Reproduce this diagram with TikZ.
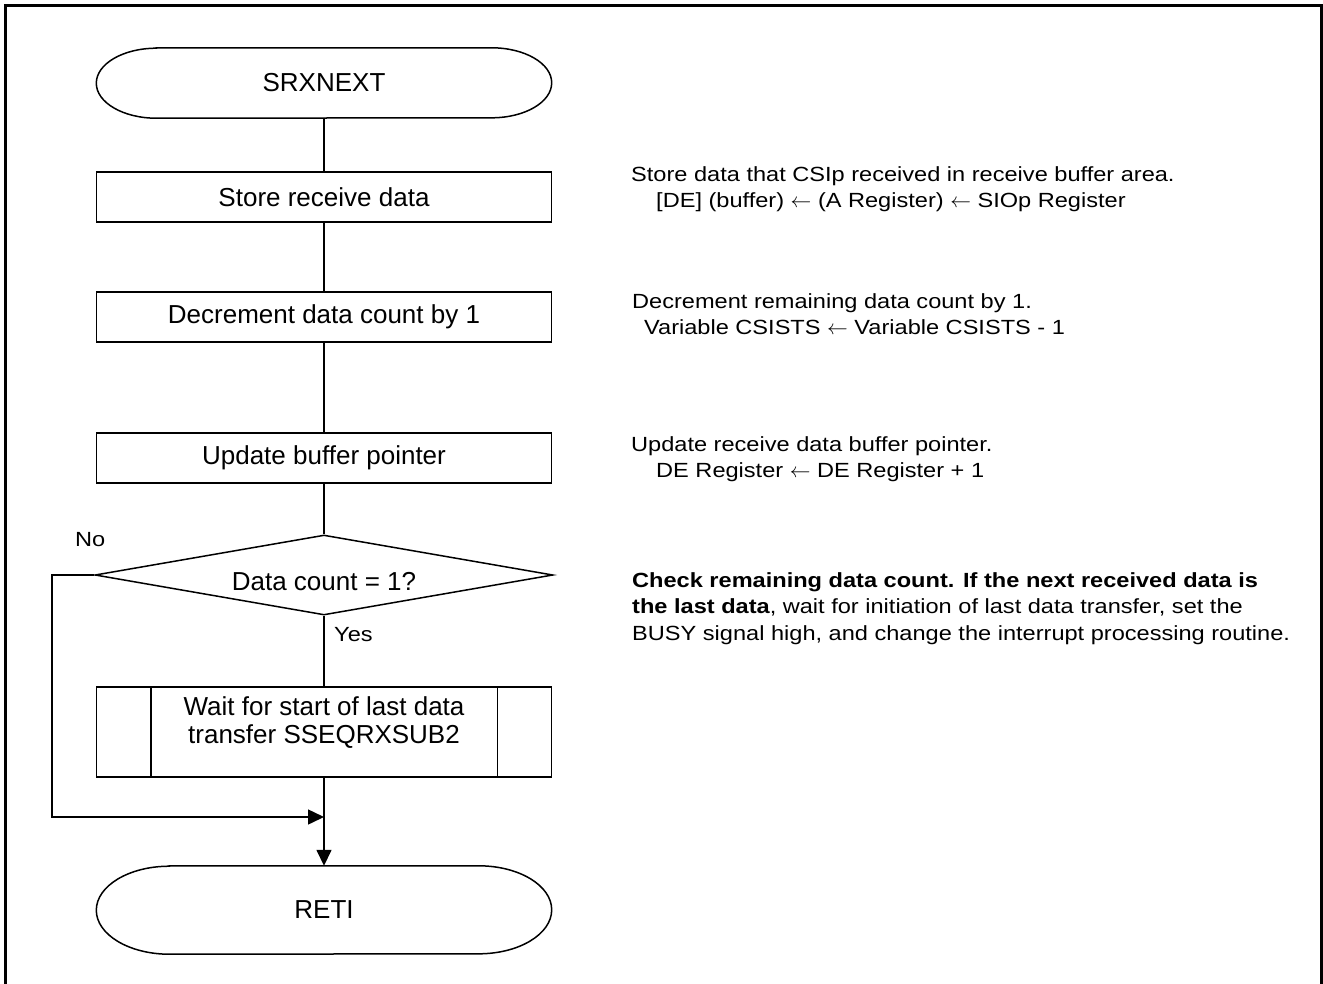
\documentclass[tikz,border=0pt]{standalone}
\usepackage{fontspec}
\setmainfont{Liberation Sans}
\newfontfamily\notefont[FakeStretch=1.15]{Liberation Sans}
\usetikzlibrary{shapes.geometric,arrows.meta}

\newcommand\boxfont{\fontsize{26}{28}\selectfont}
\newcommand\notesize{\notefont\fontsize{20.5}{26.4}\selectfont}
\newcommand\termoval[3]{%
  \draw[flowline] ([xshift=#2]#1.north west) -- ([xshift=-#2]#1.north east)
    arc[start angle=90,end angle=-90,x radius=#2,y radius=#3]
    -- ([xshift=#2]#1.south west)
    arc[start angle=270,end angle=90,x radius=#2,y radius=#3] -- cycle;}

\begin{document}
\begin{tikzpicture}
[
    x=1pt, y=-1pt,
    flowline/.style={line width=1.5pt},
    procbox/.style={draw, flowline, rectangle, minimum width=455pt, minimum height=50pt, inner sep=0pt, font=\boxfont},
    termnode/.style={rectangle, minimum width=455pt, inner sep=0pt, font=\boxfont},
    decision/.style={draw, flowline, diamond, minimum width=458pt, minimum height=80pt, inner sep=0pt},
    note/.style={anchor=north west, inner sep=0pt, align=left, font=\notesize},
    arrowline/.style={flowline, -{Triangle[length=16pt,width=15pt]}},
]
\useasboundingbox (0,0) rectangle (1323,983);
\draw[line width=3pt] (5.5,990) -- (5.5,5.5) -- (1321.5,5.5) -- (1321.5,990);

\node[termnode, minimum height=70pt] (start) at (324,83) {SRXNEXT};
\node[procbox] (store) at (324,197) {Store receive data};
\node[procbox] (dec) at (324,317) {Decrement data count by 1};
\node[procbox] (upd) at (324,458) {Update buffer pointer};
\node[decision, label={[name=checktext, font=\boxfont, inner sep=0pt, yshift=-7pt]center:Data count = 1?}] (check) at (324,575) {};
\node[procbox, minimum height=90pt, label={[name=subtext, font=\boxfont, align=center, inner sep=0pt, yshift=9pt]center:Wait for start of last data\\transfer SSEQRXSUB2}] (sub) at (324,732) {};
\node[termnode, minimum height=88pt] (ret) at (324,910) {RETI};
\coordinate (merge) at (324,817);
\coordinate (nocorner) at (52,817);

\termoval{start}{60pt}{35pt}
\termoval{ret}{73pt}{44pt}
\draw[flowline] ([xshift=55pt]sub.north west) -- ([xshift=55pt]sub.south west);
\draw[flowline] ([xshift=-55pt]sub.north east) -- ([xshift=-55pt]sub.south east);

\draw[flowline] (start) -- (store);
\draw[flowline] (store) -- (dec);
\draw[flowline] (dec) -- (upd);
\draw[flowline] (upd) -- (check);
\draw[flowline] (check) -- (sub);
\draw[arrowline] (sub) -- (ret);
\draw[arrowline] (check.west) -| (nocorner) -- (merge);

\node[anchor=base west, inner sep=0pt, font=\notesize] (nolabel) at (75,546) {No};
\node[anchor=base west, inner sep=0pt, font=\notesize] (yeslabel) at (334,641) {Yes};

\node[note] (storenote) at (631,166)
{Store data that CSIp received in receive buffer area.\\
\hspace*{25pt}[DE] (buffer) $\leftarrow$ (A Register) $\leftarrow$ SIOp Register};
\node[note] (decnote) at (632,293.5)
{Decrement remaining data count by 1.\\
\hspace*{12pt}Variable CSISTS $\leftarrow$ Variable CSISTS - 1};
\node[note] (updnote) at (631,436.5)
{Update receive data buffer pointer.\\
\hspace*{25pt}DE Register $\leftarrow$ DE Register + 1};
\node[note] (checknote) at (632,572.5)
{\textbf{Check remaining data count. If the next received data is}\\
\textbf{the last data}, wait for initiation of last data transfer, set the\\
BUSY signal high, and change the interrupt processing routine.};
\end{tikzpicture}
\end{document}
